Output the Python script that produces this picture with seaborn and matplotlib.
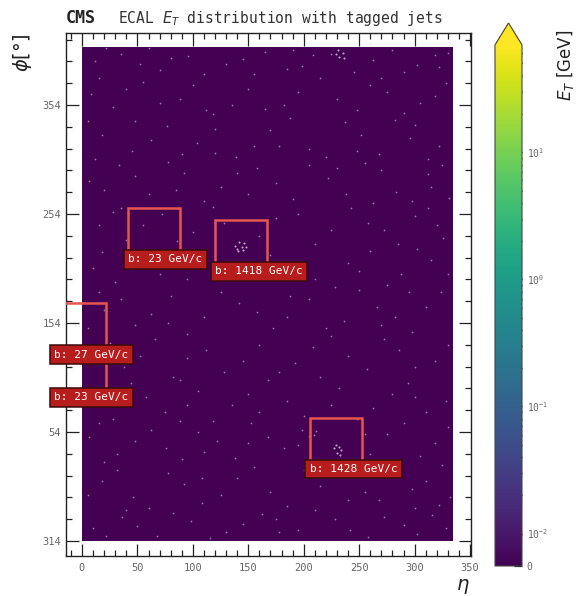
import numpy as np
import matplotlib
matplotlib.use('Agg')
import matplotlib.pyplot as plt
import seaborn as sns
from matplotlib.colors import SymLogNorm
from matplotlib.ticker import FixedLocator, AutoMinorLocator
from matplotlib.patches import Rectangle

# ---------------- data ----------------
eta_extent = 334
phi_extent = 453

hits = [
    (12,440),(35,447),(70,432),(96,445),(130,438),(165,449),(198,436),(262,441),(290,430),(318,446),
    (8,410),(28,398),(55,421),(88,405),(118,392),(150,415),(182,400),(215,425),(248,395),(275,412),(305,402),(328,420),
    (18,372),(45,358),(77,381),(104,365),(139,352),(170,377),(205,360),(237,384),(268,355),(296,370),(322,362),
    (6,330),(33,345),(60,318),(92,338),(125,325),(158,342),(190,314),(222,333),(255,347),(283,320),(312,337),(331,315),
    (15,290),(40,276),(72,300),(100,283),(175,296),(210,272),(243,305),(272,285),(300,298),(326,278),
    (10,250),(30,238),(58,262),(120,240),(195,255),(228,233),(260,266),(288,245),(315,258),
    (20,212),(48,198),(80,225),(110,205),(142,218),(172,195),(205,222),(236,202),(266,215),(298,192),(324,228),
    (8,172),(38,160),(66,185),(95,168),(128,155),(160,180),(192,163),(225,188),(257,158),(286,175),(318,165),
    (14,130),(44,145),(75,118),(105,138),(135,125),(168,148),(200,115),(232,140),(262,122),(294,145),(328,128),
    (6,95),(32,80),(62,102),(90,75),(122,92),(152,108),(182,85),(212,72),(275,98),(305,78),(330,105),
    (18,55),(46,40),(78,62),(108,35),(140,58),(170,45),(200,65),(240,38),(268,60),(298,48),(322,33),
    (10,12),(36,22),(68,5),(98,18),(130,8),(162,25),(195,10),(228,20),(258,4),(290,15),(316,24),
    (22,452),(52,438),(110,428),(145,442),(185,433),(225,447),(245,430),(280,450),(302,437),(330,448),
    (40,415),(70,402),(100,418),(135,400),(165,396),(195,412),(230,405),(260,418),(290,393),(318,408),
    (5,385),(62,368),(90,355),(120,378),(155,362),(188,388),(220,352),(252,372),(282,386),(312,350),
    (20,322),(48,335),(78,348),(110,312),(140,338),(175,328),(205,345),(238,318),(270,340),(298,312),(325,345),
    (28,302),(55,290),(86,275),(118,306),(160,280),(195,300),(225,285),(258,292),(285,272),(312,305),
    (18,265),(45,250),(95,240),(170,262),(210,240),(240,255),(275,235),(302,268),(330,245),
    (5,195),(35,222),(62,208),(95,190),(125,228),(158,210),(188,225),(220,195),(250,230),(282,205),(310,215),
    (25,182),(52,170),(82,150),(112,175),(145,165),(178,155),(208,178),(240,170),(272,185),(300,160),(330,180),
    (28,112),(58,132),(88,148),(118,110),(150,135),(185,128),(215,150),(248,112),(280,135),(310,118),
    (20,72),(48,92),(76,85),(105,100),(138,76),(168,95),(198,102),(260,80),(290,108),(318,90),
    (5,42),(32,65),(60,30),(92,52),(125,42),(155,68),(185,32),(215,50),(255,45),(282,68),(310,55),(332,40),
    (22,5),(50,14),(82,26),(115,3),(145,16),(178,8),(210,28),(242,10),(272,22),(302,6),(328,12),
    (206,100),(209,97),(211,101),(205,96),
    (15,425),(80,443),(155,428),(208,446),(270,425),(322,435),(48,385),(112,395),(178,362),(248,358),
    (300,382),(12,350),(85,322),(150,318),(230,342),(315,325),(35,305),(128,292),(262,310),(320,290),
    (70,245),(185,240),(250,248),(295,228),(15,228),(78,200),(185,205),(270,198),(30,140),(95,125),
    (160,118),(225,125),(300,132),(15,108),(110,82),(195,88),(255,98),(325,70),(40,28),(108,58),
    (175,20),(235,62),(300,30),(268,38),(88,110),(150,90),(60,452),(190,450),(260,456),(120,356),
]
clusters = [
    (138,271),(140,268),(142,274),(144,270),(146,273),(141,266),(145,267),(148,270),
    (227,85),(230,81),(232,86),(234,83),(229,88),(233,79),
    (229,447),(232,444),(235,448),(231,450),(236,443),
]
hit_eta = [h[0] for h in hits]
hit_phi = [h[1] for h in hits]
clu_eta = [c[0] for c in clusters]
clu_phi = [c[1] for c in clusters]

jet_eta = [65.0, 143.5, -1.7, -1.7, 229.0]
jet_phi = [282.0, 271.0, 194.5, 155.5, 89.5]
jet_pt = [23, 1418, 27, 23, 1428]
jet_half = 23.5

x_ticks = [0, 50, 100, 150, 200, 250, 300, 350]
y_ticks = [0, 100, 200, 300, 400]
y_ticklabels = ['314', '54', '154', '254', '354']
cbar_ticks = [0, 0.01, 0.1, 1, 10]
cbar_ticklabels = ['0', r'$10^{-2}$', r'$10^{-1}$', r'$10^{0}$', r'$10^{1}$']

# ---------------- style ----------------
sns.set_style('ticks')
plt.rcParams['font.family'] = ['DejaVu Sans Mono', 'DejaVu Sans']
plt.rcParams['mathtext.fontset'] = 'custom'
plt.rcParams['mathtext.rm'] = 'DejaVu Sans Mono'
plt.rcParams['mathtext.it'] = 'DejaVu Sans:italic'
plt.rcParams['mathtext.bf'] = 'DejaVu Sans Mono:bold'

W, H = 580, 596
fig = plt.figure(figsize=(W / 100, H / 100), dpi=100)
ax = fig.add_axes([66 / W, 1 - 556 / H, (471 - 66) / W, (556 - 33) / H])
cax = fig.add_axes([495 / W, 1 - 566 / H, 27 / W, (566 - 23) / H])

norm = SymLogNorm(linthresh=0.01, linscale=0.23, vmin=0, vmax=70, base=10)
grid = np.zeros((90, 67))
im = ax.imshow(grid, extent=(0, eta_extent, 0, phi_extent), origin='lower',
               cmap='viridis', norm=norm, aspect='auto', interpolation='nearest', zorder=1)

sns.scatterplot(x=hit_eta, y=hit_phi, s=1.6, color='#cfc6ea', linewidth=0, alpha=0.6, ax=ax, zorder=2)
sns.scatterplot(x=clu_eta, y=clu_phi, s=2.2, color='#e6e0f2', linewidth=0, alpha=0.75, ax=ax, zorder=2)

for e, p, pt in zip(jet_eta, jet_phi, jet_pt):
    x0, y0 = e - jet_half, p - jet_half
    ax.add_patch(Rectangle((x0, y0), 2 * jet_half, 2 * jet_half, fill=False,
                           ec='#e4564f', lw=1.8, zorder=4))
    ax.text(x0, y0, f'b: {pt} GeV/c', ha='left', va='center', fontsize=8,
            color='#ffffff', zorder=6, clip_on=False,
            bbox=dict(boxstyle='square,pad=0.4', fc='#b71d1d', ec='#3a0c0c', lw=1.1))

ax.set_xlim(-14.4, 350.8)
ax.set_ylim(-13.8, 466)
ax.set_xticks(x_ticks)
ax.set_xticklabels([str(t) for t in x_ticks])
ax.set_yticks(y_ticks)
ax.set_yticklabels(y_ticklabels)
ax.xaxis.set_minor_locator(AutoMinorLocator())
ax.yaxis.set_minor_locator(AutoMinorLocator())
ax.tick_params(which='both', direction='in', top=True, right=True, color='#222', width=0.9,
               labelsize=7.5, labelcolor='#666')
ax.tick_params(which='major', length=9)
ax.tick_params(which='minor', length=4.5)
ax.tick_params(axis='x', pad=5)
for s in ax.spines.values():
    s.set_linewidth(1.0)
    s.set_color('#222')
ax.set_xlabel('')
ax.set_ylabel('')

cbar = fig.colorbar(im, cax=cax, extend='max', extendfrac=0.042)
cbar.set_ticks(cbar_ticks)
cbar.set_ticklabels(cbar_ticklabels)
minor = [m * 10.0 ** k for k in range(-2, 2) for m in range(2, 10) if m * 10.0 ** k < 70]
cax.yaxis.set_minor_locator(FixedLocator(minor))
cax.tick_params(which='both', direction='in', color='#222', labelsize=7, labelcolor='#666', width=0.9)
cax.tick_params(which='major', length=6)
cax.tick_params(which='minor', length=3.5)
cbar.outline.set_edgecolor('#444')
cbar.outline.set_linewidth(0.8)

fig.text(66 / W, 1 - 23 / H, 'CMS', fontsize=12, weight='bold', color='#222', va='baseline', ha='left')
fig.text(118 / W, 1 - 23 / H, 'ECAL $E_T$ distribution with tagged jets', fontsize=10.5,
         color='#333', va='baseline', ha='left')
fig.text(470 / W, 1 - 590 / H, r'$\eta$', fontsize=14, color='#222', ha='right', va='baseline')
fig.text(22 / W, 1 - 34 / H, r'$\phi$[°]', fontsize=14, color='#222', rotation=90,
         ha='center', va='top', family=['DejaVu Sans'])
fig.text(565 / W, 1 - 30 / H, r'$E_T$ [GeV]', fontsize=12, color='#222', rotation=90,
         ha='center', va='top', family=['DejaVu Sans'])

fig.savefig('out.png', dpi=100)
